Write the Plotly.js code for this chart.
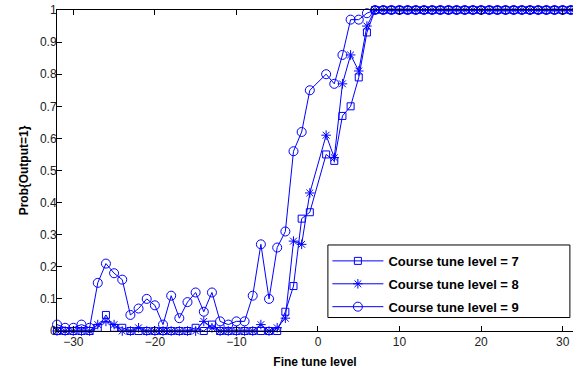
<!DOCTYPE html>
<html>
<head>
<meta charset="utf-8">
<script src="https://cdn.plot.ly/plotly-3.0.1.min.js"></script>
<style>html,body{margin:0;padding:0;overflow:hidden;background:#fff;}#chart{width:573px;height:371px;}</style>
</head>
<body>
<div id="chart"></div>
<script>
// Fine tune levels (0 is not a level)
const fineTune = [-32,-31,-30,-29,-28,-27,-26,-25,-24,-23,-22,-21,-20,-19,-18,-17,-16,-15,-14,-13,-12,-11,-10,-9,-8,-7,-6,-5,-4,-3,-2,-1,
                  1,2,3,4,5,6,7,8,9,10,11,12,13,14,15,16,17,18,19,20,21,22,23,24,25,26,27,28,29,30,31,32];

const level7 = [0,0,0,0,0,0.01,0.05,0.01,0.01,0,0,0,0,0,0,0,0,0.01,0,0.02,0,0,0,0,0,0,0,0,0.06,0.14,0.35,0.37,
                0.55,0.53,0.67,0.70,0.79,0.93,1,1,1,1,1,1,1,1,1,1,1,1,1,1,1,1,1,1,1,1,1,1,1,1,1,1];

const level8 = [0,0,0,0,0,0.02,0.03,0.02,0,0,0.01,0,0,0,0,0,0,0,0.03,0.01,0,0,0,0,0,0.02,0,0.01,0.04,0.28,0.27,0.43,
                0.61,0.54,0.77,0.86,0.81,0.95,1,1,1,1,1,1,1,1,1,1,1,1,1,1,1,1,1,1,1,1,1,1,1,1,1,1];

const level9 = [0.02,0.01,0.01,0.02,0.01,0.15,0.21,0.18,0.16,0.05,0.07,0.10,0.08,0.02,0.11,0.04,0.09,0.12,0.06,0.12,0.03,0.02,0.03,0.03,0.11,0.27,0.10,0.26,0.31,0.56,0.62,0.75,
                0.80,0.77,0.86,0.97,0.97,0.99,1,1,1,1,1,1,1,1,1,1,1,1,1,1,1,1,1,1,1,1,1,1,1,1,1,1];

const seriesNames = ['Course tune level = 7','Course tune level = 8','Course tune level = 9'];
const xTicks = [-30,-20,-10,0,10,20,30];
const yTicks = [0,0.1,0.2,0.3,0.4,0.5,0.6,0.7,0.8,0.9,1];

const blue = '#0000ff';
const font = 'Liberation Sans, Arial, sans-serif';

function trace(y, name, symbol, size, grp) {
  return {
    x: fineTune, y: y, name: name, type: 'scatter', mode: 'lines+markers',
    legendgroup: grp, cliponaxis: false,
    line: {color: blue, width: 1},
    marker: {symbol: symbol, size: size, color: blue, line: {color: blue, width: 1}}
  };
}

const data = [
  trace(level7, seriesNames[0], 'square-open', 7, 'a'),
  trace(level8, seriesNames[1], 'asterisk-open', 8, 'b'),
  trace(level9, seriesNames[2], 'circle-open', 9, 'c')
];

const layout = {
  width: 573, height: 371,
  margin: {l: 57, r: 0, t: 10, b: 40, pad: 0},
  paper_bgcolor: '#fff', plot_bgcolor: '#fff',
  font: {family: font, size: 12, color: '#000'},
  showlegend: true,
  legend: {
    x: 0.524, y: 0.265, xanchor: 'left', yanchor: 'top',
    bgcolor: 'rgba(0,0,0,0)', borderwidth: 0,
    font: {family: font, size: 13, color: '#000', weight: 'bold'},
    tracegroupgap: 3, traceorder: 'grouped', itemwidth: 51
  },
  shapes: [{
    type: 'rect', xref: 'paper', yref: 'paper', layer: 'above',
    x0: 0.525, x1: 0.994, y0: 0.042, y1: 0.268,
    line: {color: '#000', width: 1}, fillcolor: '#fff'
  }],
  xaxis: {
    range: [-32, 31.27], tickvals: xTicks, ticks: 'inside', ticklen: 5, tickcolor: '#000',
    showline: true, linecolor: '#000', linewidth: 1, mirror: 'ticks',
    showgrid: false, zeroline: false,
    tickfont: {family: font, size: 12, color: '#222'},
    title: {text: 'Fine tune level', font: {family: font, size: 12, color: '#000', weight: 'bold'}, standoff: 9}
  },
  yaxis: {
    range: [0, 1], tickvals: yTicks, ticks: 'inside', ticklen: 5, tickcolor: '#000',
    showline: true, linecolor: '#000', linewidth: 1, mirror: false,
    showgrid: false, zeroline: false, ticklabelstandoff: -3,
    tickfont: {family: font, size: 12, color: '#222'},
    title: {text: 'Prob{Output=1}', font: {family: font, size: 12, color: '#000', weight: 'bold'}, standoff: 8}
  }
};

Plotly.newPlot('chart', data, layout, {displayModeBar: false, staticPlot: true});
</script>
</body>
</html>
